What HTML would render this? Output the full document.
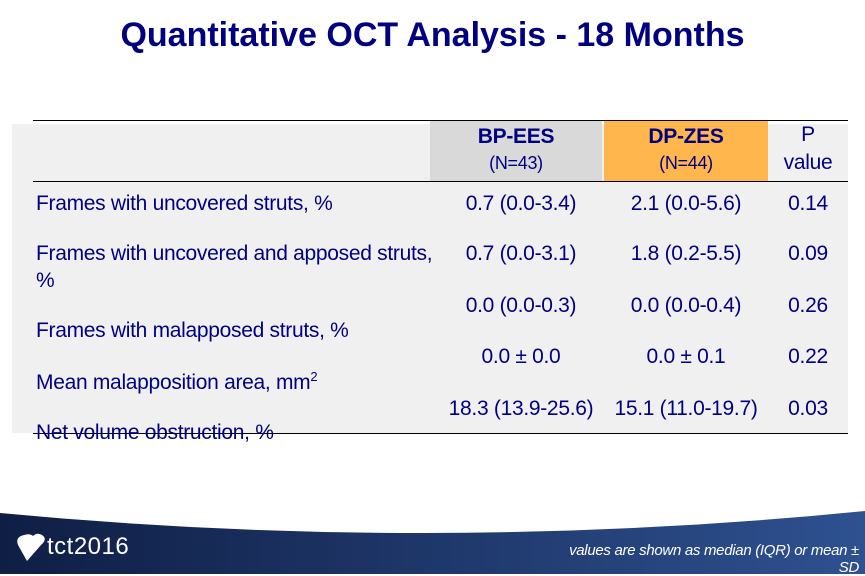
<!DOCTYPE html>
<html><head><meta charset="utf-8"><style>
body{margin:0;width:865px;height:574px;overflow:hidden;background:#fff;font-family:"Liberation Sans",Arial,sans-serif;position:relative}
.a{position:absolute;white-space:nowrap}
.t{color:#000080;font-size:21px;letter-spacing:-0.3px}
.c{text-align:center}
</style></head><body>
<div class="a" style="left:0;width:865px;top:16px;text-align:center;color:#000080;font-weight:bold;font-size:34px">Quantitative OCT Analysis - 18 Months</div>
<div class="a" style="left:12px;top:124px;width:836px;height:309px;background:#f0f0f0"></div>
<div class="a" style="left:430px;top:121px;width:172px;height:60px;background:#d9d9d9"></div>
<div class="a" style="left:604px;top:121px;width:164px;height:60px;background:#ffb74d"></div>
<div class="a" style="left:33px;top:120px;width:815px;height:1px;background:#000"></div>
<div class="a" style="left:33px;top:181px;width:815px;height:1px;background:#000"></div>
<div class="a" style="left:33px;top:433px;width:815px;height:1px;background:#000"></div>

<div class="a t c" style="left:430px;width:172px;top:125px;font-weight:bold">BP-EES</div>
<div class="a t c" style="left:430px;width:172px;top:153px;font-size:18px">(N=43)</div>
<div class="a t c" style="left:604px;width:164px;top:125px;font-weight:bold">DP-ZES</div>
<div class="a t c" style="left:604px;width:164px;top:153px;font-size:18px">(N=44)</div>
<div class="a t c" style="left:768px;width:80px;top:123px">P</div>
<div class="a t c" style="left:768px;width:80px;top:151px">value</div>

<div class="a t" style="left:36px;top:192px">Frames with uncovered struts, %</div>
<div class="a t" style="left:36px;top:242px">Frames with uncovered and apposed struts,</div>
<div class="a t" style="left:36px;top:269px">%</div>
<div class="a t" style="left:36px;top:319px">Frames with malapposed struts, %</div>
<div class="a t" style="left:36px;top:369px">Mean malapposition area, mm<sup style="font-size:13px">2</sup></div>
<div class="a t" style="left:36px;top:421px">Net volume obstruction, %</div>

<div class="a t c" style="left:442px;width:158px;top:192px">0.7 (0.0-3.4)</div>
<div class="a t c" style="left:604px;width:164px;top:192px">2.1 (0.0-5.6)</div>
<div class="a t c" style="left:768px;width:80px;top:192px">0.14</div>
<div class="a t c" style="left:442px;width:158px;top:242px">0.7 (0.0-3.1)</div>
<div class="a t c" style="left:604px;width:164px;top:242px">1.8 (0.2-5.5)</div>
<div class="a t c" style="left:768px;width:80px;top:242px">0.09</div>
<div class="a t c" style="left:442px;width:158px;top:294px">0.0 (0.0-0.3)</div>
<div class="a t c" style="left:604px;width:164px;top:294px">0.0 (0.0-0.4)</div>
<div class="a t c" style="left:768px;width:80px;top:294px">0.26</div>
<div class="a t c" style="left:442px;width:158px;top:345px">0.0 ± 0.0</div>
<div class="a t c" style="left:604px;width:164px;top:345px">0.0 ± 0.1</div>
<div class="a t c" style="left:768px;width:80px;top:345px">0.22</div>
<div class="a t c" style="left:442px;width:158px;top:397px">18.3 (13.9-25.6)</div>
<div class="a t c" style="left:604px;width:164px;top:397px">15.1 (11.0-19.7)</div>
<div class="a t c" style="left:768px;width:80px;top:397px">0.03</div>

<svg class="a" style="left:0;top:490px" width="865" height="84">
<defs><linearGradient id="g" x1="0" x2="1"><stop offset="0" stop-color="#0f1e44"/><stop offset="1" stop-color="#2e5190"/></linearGradient></defs>
<rect x="0" y="0" width="865" height="84" fill="url(#g)"/>
<path d="M-10,0 H875 V20 Q432,65 -10,22 Z" fill="#fff"/>
<path d="M18,55 q-3,-8 6,-10 q6,-2 9,1 q4,-4 9,-1 q6,4 -1,10 l-14,16 z" fill="#fff"/>
</svg>
<div class="a" style="left:47px;top:533px;color:#fff;font-size:24px;letter-spacing:0.5px">tct2016</div>
<div class="a" style="right:6px;top:542px;color:#fff;font-style:italic;font-size:15px;text-align:right;line-height:17px;letter-spacing:-0.3px">values are shown as median (IQR) or mean ±<br>SD</div>
</body></html>
